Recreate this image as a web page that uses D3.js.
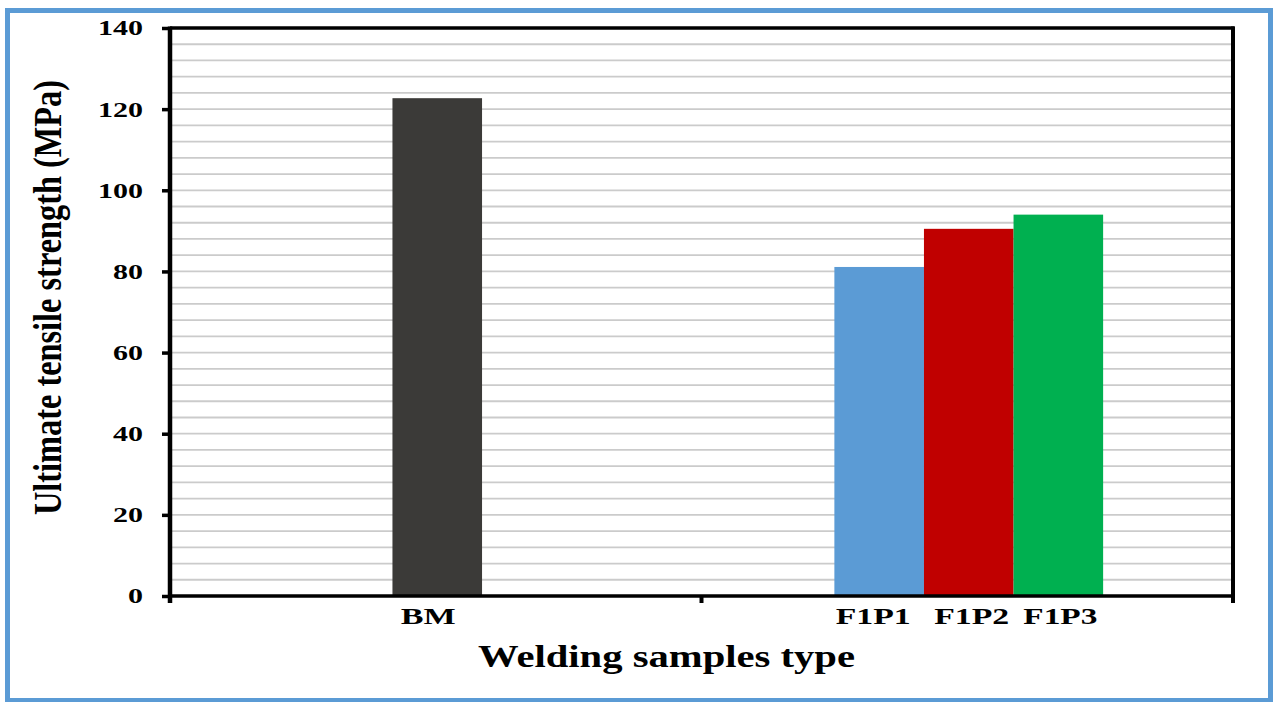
<!DOCTYPE html>
<html>
<head>
<meta charset="utf-8">
<script src="https://cdn.jsdelivr.net/npm/d3@7/dist/d3.min.js"></script>
<style>
  html, body { margin: 0; padding: 0; background: #ffffff; }
  svg { display: block; }
  text { font-family: "Liberation Serif", "Times New Roman", serif; font-weight: bold; fill: #000; }
</style>
</head>
<body>
<svg id="chart" width="1274" height="702"></svg>
<script>
// ---- data ----
const samples   = ["BM", "F1P1", "F1P2", "F1P3"];
const groupOf   = ["BM", "F1", "F1", "F1"];
const slotOf    = [1, 0, 1, 2];
const strengths = [122.7, 81.1, 90.5, 94.0];
const barColors = ["#3b3a38", "#5b9bd5", "#c00000", "#00b050"];
const groups    = ["BM", "F1"];
const yTicks    = [0, 20, 40, 60, 80, 100, 120, 140];
const yTitle    = "Ultimate tensile strength (MPa)";
const xTitle    = "Welding samples type";

const svg = d3.select("#chart");
const m = { left: 170, right: 1233, top: 28, bottom: 596 };

// outer blue frame
svg.append("rect")
  .attr("x", 7.5).attr("y", 10.5).attr("width", 1263).attr("height", 690)
  .attr("fill", "#fff").attr("stroke", "#5b9bd5").attr("stroke-width", 5);

const y = d3.scaleLinear().domain([0, 140]).range([m.bottom, m.top]);
const x = d3.scaleBand().domain(groups).range([m.left, m.right]).padding(0);
const bw = x.bandwidth();
const inner = d3.scaleBand().domain([0, 1, 2]).range([bw / 4, 3 * bw / 4 + 3]).padding(0);

// gridlines every 4 units
const gridVals = d3.range(4, 140, 4);
svg.append("g").selectAll("line").data(gridVals).join("line")
  .attr("x1", m.left).attr("x2", m.right)
  .attr("y1", d => y(d)).attr("y2", d => y(d))
  .attr("stroke", "#cbcbcb").attr("stroke-width", 1.8);

// bars
const data = samples.map((s, i) => ({ s, g: groupOf[i], slot: slotOf[i], v: strengths[i], c: barColors[i] }));
svg.append("g").selectAll("rect").data(data).join("rect")
  .attr("x", d => x(d.g) + inner(d.slot))
  .attr("width", inner.bandwidth())
  .attr("y", d => y(d.v))
  .attr("height", d => y(0) - y(d.v))
  .attr("fill", d => d.c);

// frame top and right
svg.append("line").attr("x1", m.left).attr("x2", m.right + 1.5)
  .attr("y1", m.top).attr("y2", m.top).attr("stroke", "#000").attr("stroke-width", 3.5);
svg.append("line").attr("x1", m.right).attr("x2", m.right)
  .attr("y1", m.top - 1.5).attr("y2", m.bottom + 7).attr("stroke", "#000").attr("stroke-width", 4);

// y axis
const yAxis = svg.append("g").attr("transform", `translate(${m.left},0)`)
  .call(d3.axisLeft(y).tickValues(yTicks).tickSize(8).tickSizeOuter(0).tickFormat(d3.format("d")));
yAxis.select(".domain").remove();
yAxis.selectAll(".tick line").attr("stroke", "#000").attr("stroke-width", 3.5);
yAxis.selectAll(".tick text").remove();
svg.append("line").attr("x1", m.left).attr("x2", m.left)
  .attr("y1", m.top - 1.5).attr("y2", m.bottom + 7).attr("stroke", "#000").attr("stroke-width", 4.5);

// y tick labels
svg.append("g").selectAll("text").data(yTicks).join("text")
  .attr("x", 143).attr("y", d => y(d)).attr("dy", "0.34em")
  .attr("text-anchor", "end")
  .attr("font-size", 22)
  .attr("textLength", d => String(d).length * 15)
  .attr("lengthAdjust", "spacingAndGlyphs")
  .text(d => d);

// x axis line + boundary ticks
svg.append("line").attr("x1", m.left).attr("x2", m.right)
  .attr("y1", m.bottom).attr("y2", m.bottom).attr("stroke", "#000").attr("stroke-width", 3.5);
const bounds = groups.map(g => x(g)).concat([m.right]);
svg.append("g").selectAll("line").data(bounds).join("line")
  .attr("x1", d => d).attr("x2", d => d)
  .attr("y1", m.bottom).attr("y2", m.bottom + 7)
  .attr("stroke", "#000").attr("stroke-width", 4);

// category labels
const labelW  = { "BM": 55, "F1P1": 75, "F1P2": 75, "F1P3": 74 };
const labelDx = { "BM": -9, "F1P1": -6, "F1P2": 3, "F1P3": 2 };
svg.append("g").selectAll("text").data(data).join("text")
  .attr("x", d => x(d.g) + inner(d.slot) + inner.bandwidth() / 2 + labelDx[d.s])
  .attr("y", 624)
  .attr("text-anchor", "middle")
  .attr("font-size", 24)
  .attr("textLength", d => labelW[d.s])
  .attr("lengthAdjust", "spacingAndGlyphs")
  .text(d => d.s);

// x title
svg.append("text")
  .attr("x", 666.5).attr("y", 667)
  .attr("text-anchor", "middle")
  .attr("font-size", 31)
  .attr("textLength", 377)
  .attr("lengthAdjust", "spacingAndGlyphs")
  .text(xTitle);

// y title
svg.append("text")
  .attr("transform", `translate(61,${(80 + 515) / 2}) scale(1.28,1) rotate(-90)`)
  .attr("text-anchor", "middle")
  .attr("font-size", 31)
  .attr("textLength", 435)
  .attr("lengthAdjust", "spacingAndGlyphs")
  .text(yTitle);
</script>
</body>
</html>
